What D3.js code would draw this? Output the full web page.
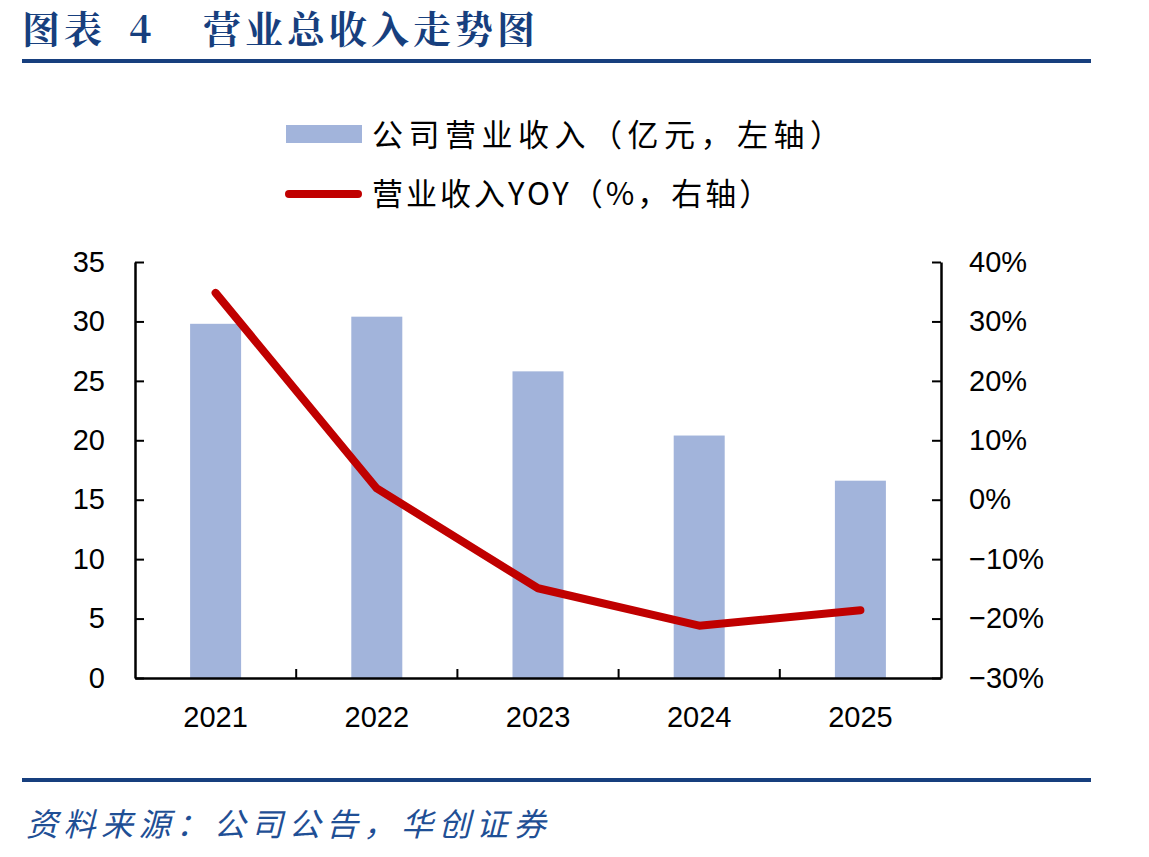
<!DOCTYPE html>
<html>
<head>
<meta charset="utf-8">
<script src="https://cdn.jsdelivr.net/npm/d3@7"></script>
<style>
  body { margin: 0; background: #fff; }
  text { font-family: "Liberation Sans", Arial, sans-serif; }
</style>
</head>
<body>
<script>
// data
const years = ["2021", "2022", "2023", "2024", "2025"];
const revenue = [29.8, 30.4, 25.8, 20.4, 16.6];       // 亿元, left axis
const yoy = [34.8, 1.9, -14.9, -21.2, -18.6];          // %, right axis
const leftTicks = [0, 5, 10, 15, 20, 25, 30, 35];
const rightTicks = [-30, -20, -10, 0, 10, 20, 30, 40];

const W = 1149, H = 857;
const margin = { top: 262, right: 208, bottom: 179, left: 135 };
const width = W - margin.left - margin.right;
const height = H - margin.top - margin.bottom;

const navy = "#173f7e";
const cjk = "'Noto Sans CJK SC', 'Noto Sans', sans-serif";

const svg = d3.select("body").append("svg")
  .attr("width", W)
  .attr("height", H);

// title
const title = svg.append("text")
  .attr("y", 43)
  .attr("fill", navy)
  .style("font-family", "'Noto Serif CJK SC', " + cjk)
  .style("font-weight", "bold")
  .style("font-size", "38px")
  .style("letter-spacing", "4px");
title.append("tspan").attr("x", 22).text("图表");
title.append("tspan").attr("x", 129).text("4");
title.append("tspan").attr("x", 203).text("营业总收入走势图");

svg.append("line")
  .attr("x1", 22).attr("x2", 1091)
  .attr("y1", 61).attr("y2", 61)
  .attr("stroke", navy).attr("stroke-width", 4);

// legend
const legend = svg.append("g");
legend.append("rect")
  .attr("x", 286).attr("y", 125)
  .attr("width", 76).attr("height", 18)
  .attr("fill", "#a2b4db");
legend.append("text")
  .attr("x", 372).attr("y", 146)
  .style("font-family", cjk)
  .style("font-size", "31px")
  .style("letter-spacing", "5.5px")
  .text("公司营业收入（亿元，左轴）");
legend.append("line")
  .attr("x1", 289).attr("x2", 358)
  .attr("y1", 194).attr("y2", 194)
  .attr("stroke", "#c00000").attr("stroke-width", 8)
  .attr("stroke-linecap", "round");
legend.append("text")
  .attr("x", 372).attr("y", 205)
  .style("font-family", cjk)
  .style("font-size", "31px")
  .style("letter-spacing", "3px")
  .text("营业收入YOY（%，右轴）");

const g = svg.append("g")
  .attr("transform", "translate(" + margin.left + "," + margin.top + ")");

// scales
const xBand = d3.scaleBand()
  .domain(years)
  .range([0, width]);

const y = d3.scaleLinear()
  .domain([0, 35])
  .range([height, 0]);

const y1 = d3.scaleLinear()
  .domain([-30, 40])
  .range([height, 0]);

// bars
g.selectAll(".bar")
  .data(revenue)
  .enter()
  .append("rect")
  .attr("class", "bar")
  .attr("x", (d, i) => xBand(years[i]) + xBand.bandwidth() / 2 - 25.5)
  .attr("width", 51)
  .attr("y", d => y(d))
  .attr("height", d => height - y(d))
  .attr("fill", "#a2b4db");

// axes
const fmtPct = d => (d < 0 ? "\u2212" + Math.abs(d) : d) + "%";

const yAxis = g.append("g")
  .call(d3.axisLeft(y).tickValues(leftTicks).tickSizeInner(-9).tickSizeOuter(0).tickPadding(30));

const y1Axis = g.append("g")
  .attr("transform", "translate(" + width + ",0)")
  .call(d3.axisRight(y1).tickValues(rightTicks).tickFormat(fmtPct).tickSizeInner(-9).tickSizeOuter(0).tickPadding(28));

const xAxis = g.append("g")
  .attr("transform", "translate(0," + height + ")")
  .call(d3.axisBottom(xBand).tickSize(0).tickPadding(28));

// inward ticks on category boundaries
g.append("g")
  .selectAll("line")
  .data(years.slice(1))
  .enter()
  .append("line")
  .attr("x1", d => xBand(d)).attr("x2", d => xBand(d))
  .attr("y1", height).attr("y2", height - 9)
  .attr("stroke", "#000").attr("stroke-width", 2);

[yAxis, y1Axis, xAxis].forEach(a => {
  a.select(".domain").attr("stroke", "#000").attr("stroke-width", 2.5);
  a.selectAll(".tick line").attr("stroke", "#000").attr("stroke-width", 2);
  a.selectAll(".tick text")
    .attr("fill", "#000")
    .style("font-family", "'Liberation Sans', Arial, sans-serif")
    .style("font-size", "29px");
});

// line
g.append("path")
  .datum(yoy)
  .attr("fill", "none")
  .attr("stroke", "#c00000")
  .attr("stroke-width", 8)
  .attr("stroke-linecap", "round")
  .attr("stroke-linejoin", "round")
  .attr("d", d3.line()
    .x((d, i) => xBand(years[i]) + xBand.bandwidth() / 2)
    .y(d => y1(d)));

// footer
svg.append("line")
  .attr("x1", 22).attr("x2", 1091)
  .attr("y1", 780).attr("y2", 780)
  .attr("stroke", navy).attr("stroke-width", 4);

svg.append("text")
  .attr("x", 26)
  .attr("y", 836)
  .attr("fill", "#1f4f95")
  .style("font-family", cjk)
  .style("font-style", "italic")
  .style("font-size", "32px")
  .style("letter-spacing", "5.5px")
  .text("资料来源：公司公告，华创证券");
</script>
</body>
</html>
